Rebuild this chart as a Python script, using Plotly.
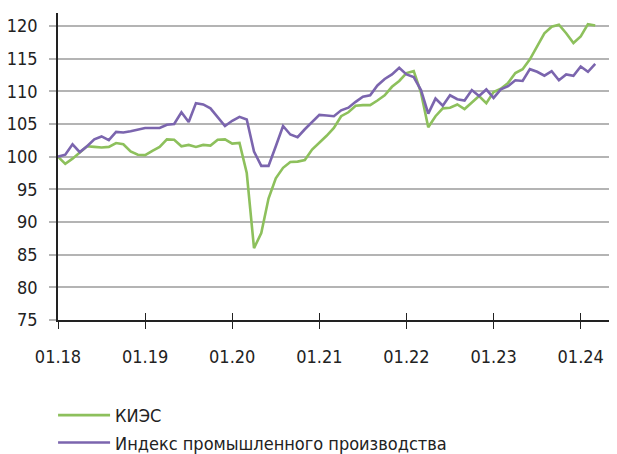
import plotly.graph_objects as go

months = list(range(75))  # 0 = 01.2018 ... 74 = 03.2024
tick_vals = [0, 12, 24, 36, 48, 60, 72]
tick_text = ["01.18", "01.19", "01.20", "01.21", "01.22", "01.23", "01.24"]
y_ticks = [75, 80, 85, 90, 95, 100, 105, 110, 115, 120]

kies = [100.0, 98.9, 99.7, 100.6, 101.6, 101.5, 101.4, 101.5, 102.1, 101.9, 100.8, 100.3,
        100.25, 100.9, 101.5, 102.65, 102.6, 101.6, 101.8, 101.5, 101.8, 101.7, 102.6, 102.65,
        102.0, 102.1, 97.5, 86.0, 88.3, 93.6, 96.7, 98.3, 99.2, 99.25, 99.5, 101.1,
        102.1, 103.2, 104.4, 106.2, 106.8, 107.8, 107.9, 107.9, 108.6, 109.4, 110.7, 111.6,
        112.8, 113.1, 109.8, 104.5, 106.2, 107.4, 107.5, 108.0, 107.3, 108.3, 109.3, 108.2,
        109.9, 110.4, 111.3, 112.8, 113.4, 114.9, 116.9, 118.9, 119.9, 120.2, 118.9, 117.4,
        118.4, 120.3, 120.1]

ipp = [100.0, 100.3, 101.9, 100.7, 101.6, 102.65, 103.1, 102.55, 103.8, 103.7, 103.9, 104.2,
       104.4, 104.4, 104.4, 104.9, 105.0, 106.8, 105.3, 108.2, 108.0, 107.4, 106.1, 104.7,
       105.5, 106.1, 105.7, 100.8, 98.6, 98.6, 101.6, 104.7, 103.4, 103.0, 104.2, 105.3,
       106.4, 106.3, 106.2, 107.1, 107.5, 108.4, 109.2, 109.4, 110.9, 111.9, 112.6, 113.6,
       112.6, 112.2, 110.2, 106.6, 108.9, 107.8, 109.4, 108.8, 108.6, 110.2, 109.3, 110.3,
       109.0, 110.3, 110.8, 111.7, 111.6, 113.4, 113.0, 112.4, 113.1, 111.7, 112.6, 112.4,
       113.8, 113.0, 114.2]

FONT = "DejaVu Sans Condensed, Liberation Sans Narrow, sans-serif"
GREEN = "#8dc05c"
PURPLE = "#7b65ae"

fig = go.Figure()
fig.add_trace(go.Scatter(x=months, y=kies, mode="lines", name="КИЭС",
                         line=dict(color=GREEN, width=2.6), legendgroup="a"))
fig.add_trace(go.Scatter(x=months, y=ipp, mode="lines", name="Индекс промышленного производства",
                         line=dict(color=PURPLE, width=2.6), legendgroup="b"))
# carrier for the upper half of the crossing x ticks
fig.add_trace(go.Scatter(x=[], y=[], xaxis="x2", showlegend=False, hoverinfo="skip"))

# the page adds an 8px body margin, so the figure is sized to fill the rest of the window
fig.update_layout(
    width=609, height=446,
    margin=dict(l=50, r=0, t=5, b=134, autoexpand=False),
    paper_bgcolor="white", plot_bgcolor="white",
    font=dict(family=FONT, size=18, color="#222222"),
    showlegend=True,
    legend=dict(xref="container", yref="container", x=0.074, y=0.128,
                xanchor="left", yanchor="top", itemwidth=52,
                font=dict(family=FONT, size=18, color="#222222"),
                tracegroupgap=1, traceorder="grouped"),
    xaxis=dict(range=[0, 77], tickvals=tick_vals, ticktext=tick_text,
               showgrid=False, zeroline=False, showline=True, linecolor="#222222", linewidth=1.5,
               ticks="outside", ticklen=7, tickwidth=1.3, tickcolor="#222222",
               ticklabelstandoff=13),
    xaxis2=dict(range=[0, 77], overlaying="x", anchor="y", side="bottom",
                tickvals=tick_vals, showticklabels=False, showgrid=False, zeroline=False,
                showline=False, ticks="inside", ticklen=7, tickwidth=1.3, tickcolor="#222222"),
    yaxis=dict(range=[75, 122], tickvals=y_ticks, showgrid=True, gridcolor="#b4b4b4", gridwidth=1.6,
               zeroline=False, showline=True, linecolor="#222222", linewidth=1.5,
               ticks="outside", ticklen=7, tickwidth=1.6, tickcolor="#b4b4b4",
               ticklabelstandoff=8),
)
fig.write_html("out.html")
